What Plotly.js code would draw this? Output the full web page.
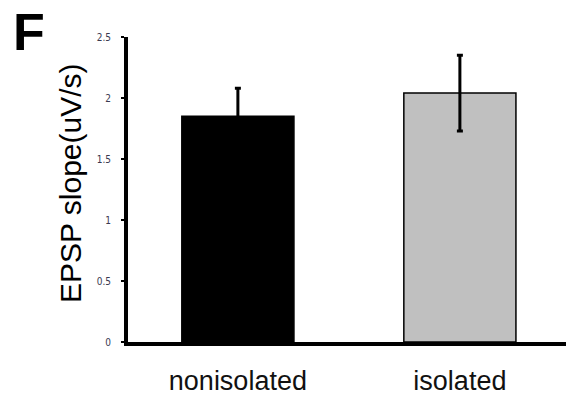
<!DOCTYPE html>
<html>
<head>
<meta charset="utf-8">
<script src="https://cdn.plot.ly/plotly-3.0.1.min.js"></script>
<style>html,body{margin:0;padding:0;background:#fff;}#chart{width:566px;height:398px;}</style>
</head>
<body>
<div id="chart"></div>
<script>
const categories = ["nonisolated", "isolated"];
const means = [1.85, 2.04];
const errors = [0.23, 0.31];
const barColors = ["#000000", "#c0c0c0"];
const yTickVals = [0, 0.5, 1, 1.5, 2, 2.5];
const yTickText = ["0", "0.5", "1", "1.5", "2", "2.5"];

const trace = {
  type: "bar",
  x: categories,
  y: means,
  width: 0.505,
  marker: { color: barColors, line: { color: "#000", width: 1.5 } },
  error_y: { type: "data", array: errors, visible: true, color: "#000", thickness: 3, width: 3 },
  hoverinfo: "none"
};

const layout = {
  width: 566, height: 398,
  margin: { l: 128, r: 0, t: 37, b: 56 },
  paper_bgcolor: "#fff", plot_bgcolor: "#fff",
  showlegend: false,
  font: { family: "Arial, 'Liberation Sans', sans-serif", color: "#000" },
  xaxis: {
    type: "category",
    range: [-0.495, 1.478],
    showline: true, linecolor: "#000", linewidth: 4,
    ticks: "", showgrid: false, zeroline: false,
    tickfont: { size: 27, family: "Arial, 'Liberation Sans', sans-serif", color: "#111" },
    ticklabelstandoff: 12
  },
  yaxis: {
    range: [0, 2.5],
    tickvals: yTickVals, ticktext: yTickText,
    showline: true, linecolor: "#000", linewidth: 4,
    ticks: "outside", ticklen: 3, tickwidth: 2, tickcolor: "#000",
    showgrid: false, zeroline: false,
    tickfont: { size: 10, family: "'DejaVu Sans Condensed', 'Liberation Sans Narrow', Arial, sans-serif", color: "#3a3a50" },
    ticklabelstandoff: 8
  },
  annotations: [
    {
      text: "EPSP slope(uV/s)", textangle: -90,
      xref: "paper", yref: "paper", x: (70 - 128) / 438, y: (342 - 183) / 305,
      xanchor: "center", yanchor: "middle", showarrow: false,
      font: { size: 30, family: "Arial, 'Liberation Sans', sans-serif", color: "#000" }
    },
    {
      text: "<b>F</b>",
      xref: "paper", yref: "paper", x: (29 - 128) / 438, y: (342 - 32) / 305,
      xanchor: "center", yanchor: "middle", showarrow: false,
      font: { size: 52, family: "Arial, 'Liberation Sans', sans-serif", color: "#000" }
    }
  ]
};

Plotly.newPlot("chart", [trace], layout, { staticPlot: true, displayModeBar: false });
</script>
</body>
</html>
